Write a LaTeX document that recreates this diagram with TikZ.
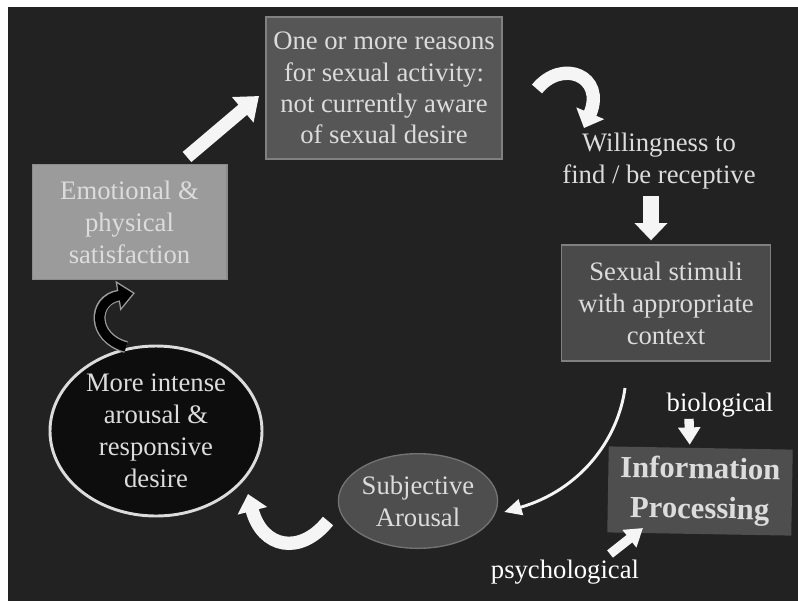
\documentclass[tikz,border=0pt]{standalone}
\usepackage{fontspec}
\setmainfont{Liberation Serif}
\usepackage{tikz}
\usetikzlibrary{arrows.meta, positioning, shapes.geometric, calc}
\definecolor{bgdark}{RGB}{34, 34, 34}
\definecolor{lighttext}{RGB}{220, 220, 220}
\definecolor{midgray}{RGB}{86, 86, 86}
\definecolor{darkgray}{RGB}{74, 74, 74}
\definecolor{palegray}{RGB}{155, 155, 155}
\definecolor{edgegray}{RGB}{128, 128, 128}
\definecolor{arrowwhite}{RGB}{245, 245, 245}

\begin{document}
\begin{tikzpicture}[x=0.75pt, y=-0.75pt,
    every node/.style={text=lighttext, align=center, font=\fontsize{20}{24}\selectfont},
    greybox/.style={rectangle, fill=#1, draw=edgegray, line width=1pt, inner sep=0pt},
    greyoval/.style={ellipse, fill=#1, inner sep=0pt},
    blockarrow/.style={draw=arrowwhite, line width=#1},
    outlinearrow/.style={draw=palegray, line width=9pt, -{Triangle[width=22pt, length=13pt]}}
]
    % background and margins
    \fill[white] (0,0) rectangle (798,601);
    \fill[bgdark] (8,7) rectangle (798,601);
    \useasboundingbox (0,0) rectangle (798,601);

    % boxes and ovals
    \node[greybox=midgray, minimum width=177pt, minimum height=106.5pt,
          font=\fontsize{20}{23.5}\selectfont] (reasons) at (384,88)
        {One or more reasons\\for sexual activity:\\not currently aware\\of sexual desire};
    \node (willing) at (659,161) {Willingness to\\find / be receptive};
    \node[greybox=darkgray, minimum width=157pt, minimum height=87pt] (stimuli) at (666,303)
        {Sexual stimuli\\with appropriate\\context};
    \node[rectangle, fill=midgray!105, minimum width=138pt, minimum height=64.5pt, rotate=-1,
          font=\fontsize{23}{30}\selectfont\bfseries] (info) at (700,491)
        {Information\\Processing};
    \node[text=white] (bio) at (720,405) {biological};
    \node[text=white] (psych) at (565,572) {psychological};
    \node[greyoval=midgray!105, draw=edgegray!110, line width=1pt,
          minimum width=117pt, minimum height=71pt] (subj) at (418,501)
        {Subjective\\Arousal};
    \node[greyoval=black!95, draw=lighttext, line width=2.2pt,
          minimum width=159pt, minimum height=127.5pt] (intense) at (156,431)
        {More intense\\arousal \&\\responsive\\desire};
    \node[greybox=palegray, draw=palegray!115, minimum width=146pt, minimum height=86pt] (satis) at (129.5,222)
        {Emotional \&\\physical\\satisfaction};

    % arrow ends
    \coordinate (s1) at (187,157);
    \coordinate (s2) at (259,96);
    \coordinate (w1) at (537,89);
    \coordinate (w2) at (584,128);
    \coordinate (t1) at (625,388);
    \coordinate (b1) at (328,521);
    \coordinate (b2) at (248,494);
    \coordinate (o1) at (126,347);
    \coordinate (o2) at (135,293);
    \coordinate (p1) at (610,554);
    \coordinate (p2) at (643,528);

    % connectors
    \draw[blockarrow=10pt, -{Triangle[width=24pt, length=16pt]}] (s1) -- (s2);
    \draw[blockarrow=10pt, -{Triangle[width=22pt, length=12pt]}]
        (w1) .. controls (562,58) and (606,76) .. (w2);
    \draw[blockarrow=12pt, -{Triangle[width=24pt, length=13pt]}]
        ($(willing.south)+(-8,2)$) -- ($(stimuli.north)+(-15,-4)$);
    \draw[draw=arrowwhite, line width=2.2pt, -{Triangle[width=12pt, length=13pt]}]
        (t1) .. controls (618,440) and (580,490) .. ($(subj.east)+(6,11)$);
    \draw[blockarrow=7pt, -{Triangle[width=16pt, length=13pt]}]
        ($(bio.south)+(-31,-3)$) -- ($(info.north)+(-11,-3)$);
    \draw[blockarrow=7pt, -{Triangle[width=16pt, length=13pt]}] (p1) -- (p2);
    \draw[blockarrow=10pt, -{Triangle[width=22pt, length=13pt]}]
        (b1) .. controls (300,556) and (262,548) .. (b2);
    \draw[outlinearrow] (o1) .. controls (92,338) and (92,300) .. (o2);
    \draw[draw=black, line width=7pt, shorten >=1.6pt, -{Triangle[width=17.5pt, length=10.4pt]}]
        (o1) .. controls (92,338) and (92,300) .. (o2);
\end{tikzpicture}
\end{document}
